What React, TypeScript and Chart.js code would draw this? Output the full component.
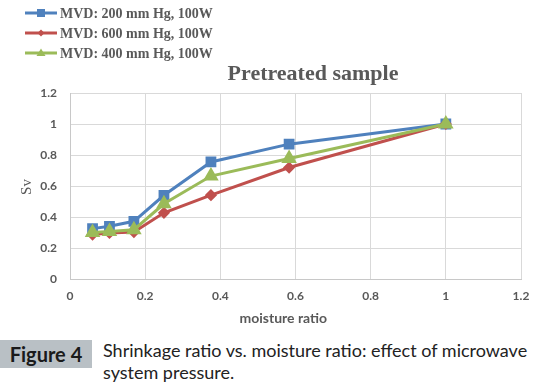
import React, { useEffect, useRef } from "react";
import { Chart, registerables } from "chart.js";

Chart.register(...registerables);

const moistureRatio = [0.06, 0.105, 0.17, 0.25, 0.375, 0.583, 1.0];
const sv200 = [0.325, 0.34, 0.372, 0.54, 0.755, 0.87, 1.0];
const sv600 = [0.287, 0.297, 0.303, 0.427, 0.541, 0.719, 1.0];
const sv400 = [0.3, 0.307, 0.318, 0.485, 0.664, 0.777, 1.0];
const seriesNames = ["MVD: 200 mm Hg, 100W", "MVD: 600 mm Hg, 100W", "MVD: 400 mm Hg, 100W"];
const chartTitle = "Pretreated sample";
const xTitle = "moisture ratio";
const yTitle = "Sv";

const toPts = (ys: number[]) => moistureRatio.map((x, i) => ({ x, y: ys[i] }));

const overlayPlugin = {
  id: "overlay",
  afterDraw(chart: any) {
    const ctx = chart.ctx;
    const ca = chart.chartArea;
    ctx.save();
    // Title
    ctx.fillStyle = "#595959";
    ctx.font = "bold 22px 'Liberation Serif', 'DejaVu Serif', serif";
    ctx.textAlign = "center";
    ctx.textBaseline = "middle";
    ctx.fillText(chartTitle, 313, 74);
    // x title
    ctx.font = "bold 14px Lato, 'Open Sans', sans-serif";
    ctx.fillText(xTitle, ca.left + (ca.right - ca.left) * 0.473, 318);
    // y title
    ctx.save();
    ctx.translate(27, 187);
    ctx.rotate(-Math.PI / 2);
    ctx.font = "15px 'Liberation Serif', serif";
    ctx.fillText(yTitle, 0, 0);
    ctx.restore();
    // Legend
    chart.data.datasets.forEach((ds: any, i: number) => {
      const y = 13 + i * 20;
      ctx.strokeStyle = ds.borderColor;
      ctx.lineWidth = 3;
      ctx.beginPath();
      ctx.moveTo(25, y);
      ctx.lineTo(57, y);
      ctx.stroke();
      ctx.fillStyle = ds.backgroundColor;
      const cx = 41;
      if (ds.pointStyle === "rect") {
        ctx.fillRect(cx - 4, y - 4, 8, 8);
      } else if (ds.pointStyle === "rectRot") {
        ctx.beginPath();
        ctx.moveTo(cx, y - 3.5);
        ctx.lineTo(cx + 3.5, y);
        ctx.lineTo(cx, y + 3.5);
        ctx.lineTo(cx - 3.5, y);
        ctx.closePath();
        ctx.fill();
      } else {
        ctx.beginPath();
        ctx.moveTo(cx, y - 4.5);
        ctx.lineTo(cx + 4.5, y + 3);
        ctx.lineTo(cx - 4.5, y + 3);
        ctx.closePath();
        ctx.fill();
      }
      ctx.fillStyle = "#595959";
      ctx.font = "bold 14px 'Liberation Serif', serif";
      ctx.textAlign = "left";
      ctx.textBaseline = "middle";
      ctx.fillText(ds.label, 60, y + 1);
    });
    ctx.restore();
  },
};

export default function App() {
  const ref = useRef<HTMLCanvasElement>(null);
  useEffect(() => {
    if (!ref.current) return;
    const chart = new Chart(ref.current, {
      type: "scatter",
      data: {
        datasets: [
          {
            label: seriesNames[0],
            data: toPts(sv200),
            borderColor: "#4f81bd",
            backgroundColor: "#4f81bd",
            pointStyle: "rect",
            pointRadius: 5.5,
            borderWidth: 3,
            showLine: true,
            order: 2,
          },
          {
            label: seriesNames[1],
            data: toPts(sv600),
            borderColor: "#c0504d",
            backgroundColor: "#c0504d",
            pointStyle: "rectRot",
            pointRadius: 4,
            borderWidth: 3,
            showLine: true,
            order: 1,
          },
          {
            label: seriesNames[2],
            data: toPts(sv400),
            borderColor: "#9bbb59",
            backgroundColor: "#9bbb59",
            pointStyle: "triangle",
            pointRadius: 6,
            borderWidth: 3,
            showLine: true,
            order: 0,
          },
        ] as any,
      },
      options: {
        animation: false,
        responsive: false,
        layout: { padding: { top: 93, right: 25, left: 0, bottom: 0 } },
        plugins: { legend: { display: false }, title: { display: false }, tooltip: { enabled: false } },
        elements: { line: { tension: 0 }, point: { borderWidth: 1 } },
        scales: {
          x: {
            type: "linear",
            min: 0,
            max: 1.2,
            ticks: {
              stepSize: 0.2,
              padding: 10,
              color: "#595959",
              font: { family: "Lato, 'Open Sans', sans-serif", size: 12, weight: "bold" },
              callback: (v: any) => String(Math.round(v * 10) / 10),
            },
            grid: { color: "#d9d9d9", drawTicks: false },
            border: { color: "#c8c8c8" },
            afterFit: (s: any) => {
              s.height = 51;
            },
          },
          y: {
            type: "linear",
            min: 0,
            max: 1.2,
            ticks: {
              stepSize: 0.2,
              padding: 13,
              color: "#595959",
              font: { family: "Lato, 'Open Sans', sans-serif", size: 12, weight: "bold" },
              callback: (v: any) => String(Math.round(v * 10) / 10),
            },
            grid: { color: "#d9d9d9", drawTicks: false },
            border: { color: "#c8c8c8" },
            afterFit: (s: any) => {
              s.width = 70;
            },
          },
        } as any,
      },
      plugins: [overlayPlugin],
    });
    return () => chart.destroy();
  }, []);

  return (
    <div style={{ position: "absolute", left: 0, top: 0, width: 546, height: 386, background: "#fff" }}>
      <canvas ref={ref} width={546} height={330} style={{ position: "absolute", left: 0, top: 0 }} />
      <div
        style={{
          position: "absolute",
          left: 0,
          top: 340,
          width: 92,
          height: 28,
          background: "#b9c0c5",
          color: "#1a1a1a",
          fontFamily: "Lato, 'Open Sans', sans-serif",
          fontWeight: "bold",
          fontSize: 20,
          lineHeight: "28px",
          textAlign: "center",
        }}
      >
        Figure 4
      </div>
      <div
        style={{
          position: "absolute",
          left: 103,
          top: 339,
          color: "#222",
          fontFamily: "Lato, 'Open Sans', sans-serif",
          fontSize: 18,
          lineHeight: "22px",
          whiteSpace: "nowrap",
        }}
      >
        Shrinkage ratio vs. moisture ratio: effect of microwave
        <br />
        system pressure.
      </div>
    </div>
  );
}
